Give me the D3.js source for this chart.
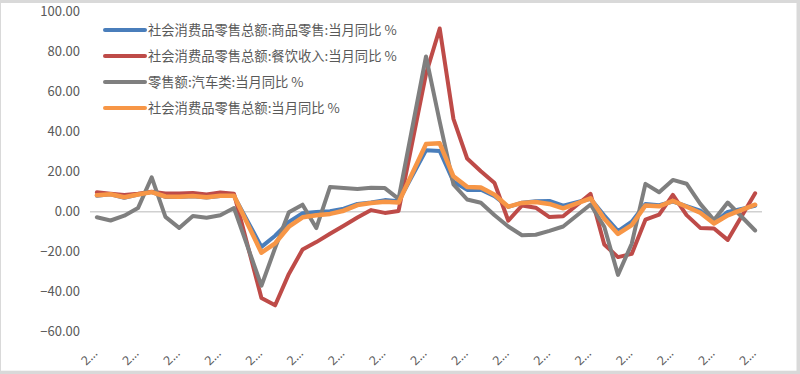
<!DOCTYPE html>
<html>
<head>
<meta charset="utf-8">
<script src="https://cdn.jsdelivr.net/npm/d3@7/dist/d3.min.js"></script>
<style>
  html, body { margin: 0; padding: 0; background: #d9d9d9; }
  svg { display: block; }
</style>
</head>
<body>
<svg id="chart" width="800" height="374"></svg>
<script>
// ---- data ----
const categories = [
  "2019-02","2019-03","2019-04","2019-05","2019-06","2019-07","2019-08","2019-09","2019-10","2019-11","2019-12",
  "2020-01","2020-02","2020-03","2020-04","2020-05","2020-06","2020-07","2020-08","2020-09","2020-10","2020-11","2020-12",
  "2021-01","2021-02","2021-03","2021-04","2021-05","2021-06","2021-07","2021-08","2021-09","2021-10","2021-11","2021-12",
  "2022-01","2022-02","2022-03","2022-04","2022-05","2022-06","2022-07","2022-08","2022-09","2022-10","2022-11","2022-12",
  "2023-01","2023-02"
];
const goods = [
  8.0, 8.7, 7.0, 8.6, 9.8, 7.4, 7.3, 7.7, 7.1, 7.9, 7.9,
  null, -17.6, -12.0, -5.1, -0.8, -0.2, 0.2, 1.5, 3.9, 4.6, 5.8, 5.2,
  null, 30.7, 30.4, 15.1, 10.9, 11.0, 7.8, 2.4, 4.5, 5.2, 5.4, 3.0,
  null, 6.5, -1.9, -9.7, -5.0, 3.9, 3.2, 5.1, 2.8, 0.5, -5.6, -0.1,
  null, 2.9
];
const catering = [
  9.7, 9.0, 8.4, 9.0, 10.0, 9.1, 9.1, 9.4, 8.6, 9.6, 9.0,
  null, -43.1, -46.8, -31.1, -18.9, -15.2, -11.0, -7.0, -2.9, 0.8, -0.6, 0.4,
  null, 68.9, 91.6, 46.4, 26.6, 20.2, 14.3, -4.5, 3.1, 2.0, -2.7, -2.3,
  null, 8.9, -16.4, -22.7, -21.1, -4.0, -1.5, 8.4, -1.7, -8.1, -8.4, -14.1,
  null, 9.2
];
const autos = [
  -2.8, -4.4, -2.0, 1.8, 17.2, -2.6, -8.1, -2.2, -3.0, -1.8, 1.8,
  null, -37.0, -18.1, -0.3, 3.5, -8.2, 12.3, 11.8, 11.3, 12.0, 11.8, 6.4,
  null, 77.6, 45.0, 13.7, 6.1, 4.5, -1.8, -7.4, -11.8, -11.5, -9.6, -7.4,
  null, 3.6, -7.5, -31.6, -16.0, 13.9, 9.7, 15.9, 14.0, 3.9, -4.2, 4.6,
  null, -9.4
];
const total = [
  8.2, 8.7, 7.2, 8.6, 9.8, 7.6, 7.5, 7.8, 7.2, 8.0, 8.0,
  null, -20.5, -15.8, -7.5, -2.8, -1.8, -1.1, 0.5, 3.3, 4.3, 5.0, 4.6,
  null, 33.8, 34.2, 17.7, 12.4, 12.1, 8.5, 2.5, 4.4, 4.9, 3.9, 1.7,
  null, 6.7, -3.5, -11.1, -6.7, 3.1, 2.7, 5.4, 2.5, -0.5, -5.9, -1.8,
  null, 3.5
];
const seriesNames = [
  "社会消费品零售总额:商品零售:当月同比 %",
  "社会消费品零售总额:餐饮收入:当月同比 %",
  "零售额:汽车类:当月同比 %",
  "社会消费品零售总额:当月同比 %"
];
const seriesColors = ["#4a7ebb", "#be4b48", "#7f7f7f", "#f79646"];
const seriesValues = [goods, catering, autos, total];
const yTicks = [100, 80, 60, 40, 20, 0, -20, -40, -60];
const xTickCategories = categories.filter((d, i) => i % 3 === 0);

// ---- layout ----
const svg = d3.select("#chart");
svg.append("rect").attr("x", 1).attr("y", 3).attr("width", 795.5).attr("height", 367.7).attr("fill", "#ffffff");

const x = d3.scaleBand().domain(categories).range([90, 762]);
const y = d3.scaleLinear().domain([-60, 100]).range([331.7, 11.7]);
const cx = d => x(d) + x.bandwidth() / 2;

const font = "'Noto Sans CJK SC', 'Noto Sans', sans-serif";
const textColor = "#595959";

// y labels
svg.append("g").selectAll("text").data(yTicks).join("text")
  .attr("x", 80).attr("y", d => y(d) + 4.6)
  .attr("text-anchor", "end")
  .attr("font-family", font).attr("font-size", 13).attr("fill", textColor)
  .text(d => d3.format(".2f")(d));

// zero line
svg.append("line")
  .attr("x1", x.range()[0]).attr("x2", x.range()[1])
  .attr("y1", y(0)).attr("y2", y(0))
  .attr("stroke", "#d0d0d0").attr("stroke-width", 1.5);

// x labels (truncated, rotated)
svg.append("g").selectAll("text").data(xTickCategories).join("text")
  .attr("transform", d => `translate(${cx(d) + 1.5},354) rotate(-45)`)
  .attr("text-anchor", "end")
  .attr("font-family", "'Noto Sans', sans-serif").attr("font-size", 12.5).attr("fill", textColor)
  .text(d => d.charAt(0) + "…");

// lines
const line = d3.line().x(d => cx(d.c)).y(d => y(d.v));
seriesValues.forEach((vals, si) => {
  const pts = categories.map((c, i) => ({c, v: vals[i]})).filter(d => d.v !== null);
  svg.append("path").datum(pts)
    .attr("d", line)
    .attr("fill", "none")
    .attr("stroke", seriesColors[si])
    .attr("stroke-width", si === 3 ? 4.5 : 4)
    .attr("stroke-linejoin", "round")
    .attr("stroke-linecap", "round");
});

// legend
const lg = svg.append("g").selectAll("g").data(seriesNames).join("g")
  .attr("transform", (d, i) => `translate(0,${30 + i * 26})`);
lg.append("line").attr("x1", 105).attr("x2", 145).attr("y1", 0).attr("y2", 0)
  .attr("stroke", (d, i) => seriesColors[i]).attr("stroke-width", 4).attr("stroke-linecap", "round");
lg.append("text").attr("x", 148).attr("y", 4.8)
  .attr("font-family", font).attr("font-size", 13.3).attr("fill", textColor)
  .text(d => d);
</script>
</body>
</html>
